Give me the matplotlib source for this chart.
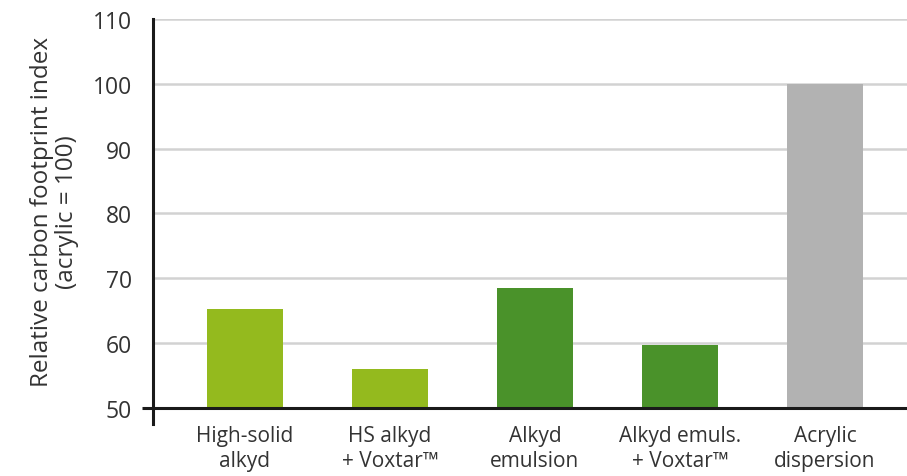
import numpy as np
import matplotlib
matplotlib.use("Agg")
import matplotlib.pyplot as plt

plt.rcParams['font.family'] = ['Open Sans', 'DejaVu Sans']

categories = ["High-solid\nalkyd", "HS alkyd\n+ Voxtar\u2122", "Alkyd\nemulsion",
              "Alkyd emuls.\n+ Voxtar\u2122", "Acrylic\ndispersion"]
values = [65.2, 56.0, 68.5, 59.7, 100.0]
colors = ["#94ba1e", "#94ba1e", "#4a922a", "#4a922a", "#b2b2b2"]
yticks = [50, 60, 70, 80, 90, 100, 110]

fig = plt.figure(figsize=(9.07, 4.77), dpi=100)
ax = fig.add_axes([0.1687, 0.109, 0.8313, 0.849])

x = np.arange(len(categories))
ax.bar(x, [v - 50 for v in values], bottom=50, width=0.52, color=colors, zorder=3)

ax.set_xlim(-0.634, 4.566)
ax.set_ylim(47.5, 110)
ax.set_yticks(yticks)
for t in yticks[1:]:
    ax.axhline(t, color="#d2d2d2", lw=1.8, zorder=1)

# baseline at 50 with a short tick to the left of the axis
ax.plot([-0.0146, 1], [50, 50], transform=ax.get_yaxis_transform(),
        color="#1a1a1a", lw=2.2, clip_on=False, zorder=4, solid_capstyle="butt")

for s in ["top", "right", "bottom"]:
    ax.spines[s].set_visible(False)
ax.spines["left"].set_color("#1a1a1a")
ax.spines["left"].set_linewidth(2.2)
ax.spines["left"].set_zorder(5)

ax.set_xticks(x)
ax.set_xticklabels(categories, fontsize=15, color="#333333", linespacing=1.25)
ax.tick_params(axis="x", length=0, pad=1)
ax.tick_params(axis="y", length=0, pad=15, labelsize=16.5, labelcolor="#333333")

ax.set_ylabel("Relative carbon footprint index\n(acrylic = 100)", fontsize=17.5,
              color="#333333", linespacing=1.05, labelpad=10)
ax.yaxis.label.set_y(0.525)

fig.savefig("out.png", dpi=100)
